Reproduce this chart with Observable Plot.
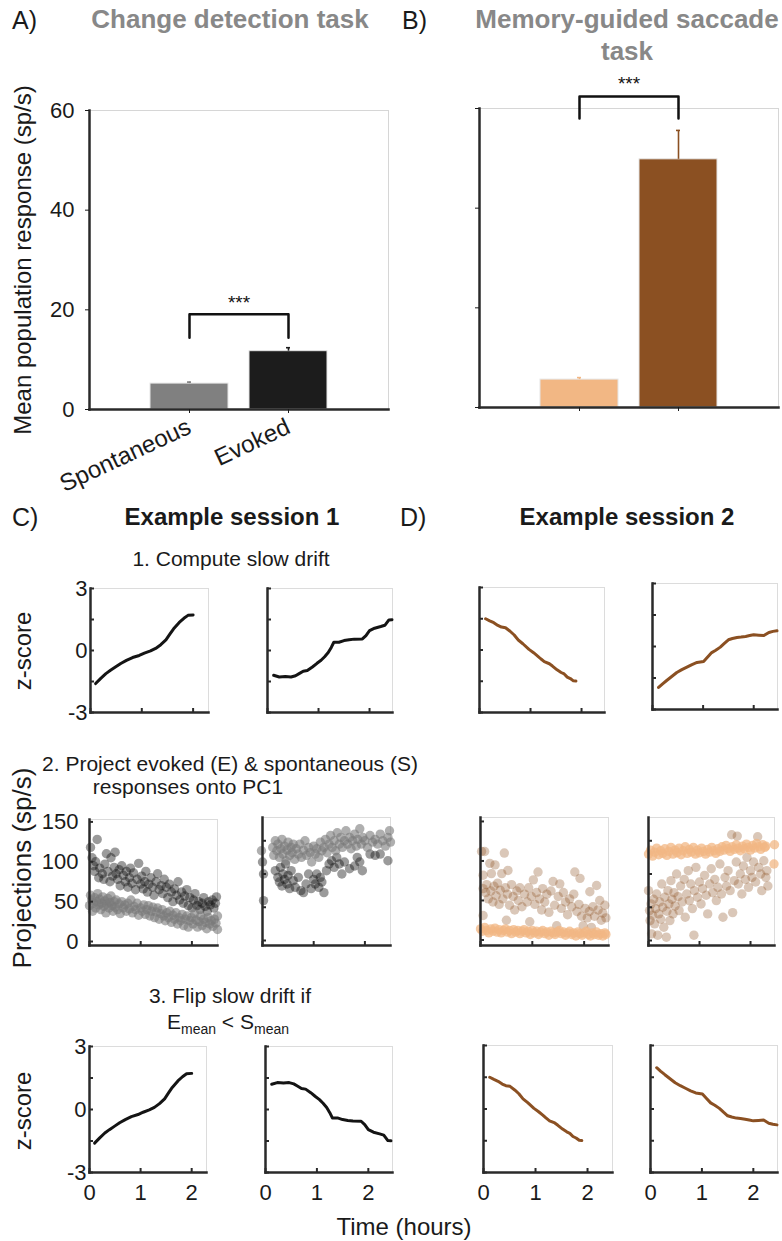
<!DOCTYPE html>
<html><head><meta charset="utf-8">
<script src="https://cdn.jsdelivr.net/npm/d3@7"></script>
<script src="https://cdn.jsdelivr.net/npm/@observablehq/plot@0.6"></script>
<style>
html,body{margin:0;padding:0;background:#fff;}
#root{position:relative;width:782px;height:1241px;overflow:hidden;font-family:'Liberation Sans',Arial,Helvetica,sans-serif;color:#1a1a1a;}
.t{position:absolute;white-space:nowrap;line-height:1;transform:translate(-50%,-50%);}
.l{position:absolute;white-space:nowrap;line-height:1;transform:translate(0,-50%);}
.v{position:absolute;white-space:nowrap;line-height:1;transform:translate(-50%,-50%) rotate(-90deg);}
.ttl{font-weight:bold;font-size:26px;color:#888;}
.hdr{font-weight:bold;font-size:24px;color:#1a1a1a;}
.pl{font-size:25px;}
.st{font-size:21px;}
.ax{font-size:24px;}
sub{font-size:14px;vertical-align:-5px;}
#root svg{position:absolute;overflow:visible;}
</style></head><body><div id="root">
<div class="l pl" style="left:12px;top:20px">A)</div>
<div class="t ttl" style="left:230px;top:19px">Change detection task</div>
<div class="l pl" style="left:402px;top:20px">B)</div>
<div class="t ttl" style="left:627px;top:19px">Memory-guided saccade</div>
<div class="t ttl" style="left:627px;top:51px">task</div>
<div class="v ax" style="left:23px;top:260px">Mean population response (sp/s)</div>
<div class="l pl" style="left:12px;top:517px">C)</div>
<div class="t hdr" style="left:232px;top:517px">Example session 1</div>
<div class="l pl" style="left:400px;top:517px">D)</div>
<div class="t hdr" style="left:627px;top:517px">Example session 2</div>
<div class="t st" style="left:231px;top:558px">1. Compute slow drift</div>
<div class="v ax" style="left:23px;top:651px">z-score</div>
<div class="t st" style="left:230px;top:763px">2. Project evoked (E) &amp; spontaneous (S)</div>
<div class="t st" style="left:188px;top:786px">responses onto PC1</div>
<div class="v ax" style="left:22px;top:868px;font-size:26px">Projections (sp/s)</div>
<div class="t st" style="left:230px;top:995px">3. Flip slow drift if</div>
<div class="t st" style="left:228px;top:1023px">E<sub>mean</sub> &lt; S<sub>mean</sub></div>
<div class="v ax" style="left:23px;top:1111px">z-score</div>
<div class="t ax" style="left:404px;top:1227px">Time (hours)</div>
</div>
<script>
const FONT = "'Liberation Sans', Arial, Helvetica, sans-serif";
const root = document.getElementById("root");

// ---------- bar charts (A, B) ----------
const barCategories = ["Spontaneous", "Evoked"];
const barTicks = [0, 20, 40, 60];
const changeMeans = [5.2, 11.7];
const changeErrors = [0.3, 0.7];
const changeColors = ["#808080", "#1c1c1c"];
const changeBracket = [14.4, 19.1];
const changeStarsAt = 21.3;
const memoryMeans = [5.6, 49.8];
const memoryErrors = [0.4, 5.8];
const memoryColors = ["#F2B784", "#8B5022"];
const memoryBracket = [58, 62.4];
const memoryStarsAt = 65;
const sigLabel = "***";

// ---------- slow drift (z-score vs time, hours) ----------
const drift1Time = [0.1,0.2,0.3,0.39,0.5,0.59,0.7,0.82,0.95,1.05,1.17,1.27,1.37,1.47,1.55,1.62,1.73,1.82,1.9,2.0];
const drift1Z    = [-1.6,-1.35,-1.12,-0.96,-0.78,-0.63,-0.48,-0.34,-0.24,-0.13,-0.02,0.1,0.28,0.51,0.8,1.05,1.36,1.56,1.7,1.72];
const drift2Time = [0.12,0.23,0.35,0.46,0.55,0.62,0.7,0.78,0.88,0.97,1.05,1.12,1.19,1.25,1.3,1.4,1.5,1.6,1.7,1.86,1.93,2.0,2.1,2.22,2.3,2.38,2.44];
const drift2Z    = [-1.2,-1.28,-1.26,-1.28,-1.22,-1.12,-1.0,-0.97,-0.8,-0.62,-0.47,-0.3,-0.1,0.15,0.4,0.4,0.48,0.52,0.55,0.56,0.72,0.96,1.08,1.16,1.22,1.48,1.49];
const drift3Time = [0.12,0.2,0.28,0.36,0.43,0.51,0.6,0.68,0.76,0.85,0.97,1.06,1.14,1.2,1.27,1.37,1.43,1.52,1.6,1.66,1.72,1.78,1.84,1.89];
const drift3Z    = [1.5,1.4,1.31,1.18,1.1,1.07,0.9,0.72,0.48,0.3,0.03,-0.13,-0.29,-0.42,-0.56,-0.66,-0.77,-0.95,-1.08,-1.15,-1.3,-1.37,-1.48,-1.49];
const drift4Time = [0.12,0.2,0.28,0.38,0.48,0.58,0.68,0.78,0.88,1.01,1.09,1.17,1.25,1.34,1.42,1.5,1.58,1.67,1.75,1.84,1.92,2.0,2.1,2.2,2.3,2.38,2.46];
const drift4Z    = [-1.95,-1.78,-1.62,-1.43,-1.24,-1.1,-0.98,-0.86,-0.76,-0.71,-0.5,-0.29,-0.18,-0.03,0.15,0.32,0.38,0.43,0.45,0.48,0.52,0.56,0.54,0.52,0.67,0.72,0.75];
// E_mean < S_mean in sessions 2 and 4, so their drift is flipped in step 3
const flipSession = [false, true, false, true];
const zTicks = [-3, -1.5, 0, 1.5, 3];
const zLabels = [-3, 0, 3];
const hourTicks = [0, 1, 2];
const projTicks = [0, 50, 100, 150];

// ---------- projections onto PC1 (time h, sp/s) ----------
const proj1Evoked = [[0.02,118],[0.05,105],[0.08,95],[0.1,88],[0.12,100],[0.15,128],[0.18,80],[0.2,92],[0.25,85],[0.28,78],[0.3,97],[0.33,110],[0.36,88],[0.4,75],[0.42,105],[0.45,82],[0.48,93],[0.5,112],[0.52,85],[0.55,78],[0.58,90],[0.6,70],[0.63,95],[0.66,83],[0.7,75],[0.72,88],[0.75,68],[0.78,80],[0.8,92],[0.83,73],[0.86,86],[0.9,65],[0.93,78],[0.96,98],[1.0,72],[1.02,82],[1.05,66],[1.08,75],[1.1,88],[1.13,62],[1.16,72],[1.2,80],[1.23,68],[1.26,58],[1.3,75],[1.33,85],[1.36,65],[1.4,70],[1.43,60],[1.46,78],[1.5,68],[1.53,55],[1.56,72],[1.6,62],[1.63,50],[1.66,66],[1.7,58],[1.73,75],[1.76,52],[1.8,62],[1.83,48],[1.86,57],[1.9,65],[1.93,45],[1.96,55],[2.0,42],[2.03,52],[2.06,60],[2.1,45],[2.13,50],[2.16,40],[2.2,48],[2.23,55],[2.26,44],[2.3,38],[2.33,50],[2.36,46],[2.4,52],[2.43,42],[2.46,48],[2.48,56]];
const proj1Spont = [[0.0,45],[0.02,58],[0.04,52],[0.06,38],[0.08,48],[0.1,55],[0.12,42],[0.14,50],[0.16,60],[0.18,46],[0.2,53],[0.22,40],[0.24,48],[0.26,56],[0.28,44],[0.3,51],[0.32,36],[0.34,47],[0.36,54],[0.38,42],[0.4,49],[0.42,57],[0.44,45],[0.46,38],[0.48,50],[0.5,43],[0.52,52],[0.55,40],[0.58,47],[0.6,35],[0.63,50],[0.66,42],[0.69,46],[0.72,38],[0.75,48],[0.78,41],[0.81,52],[0.84,36],[0.87,44],[0.9,40],[0.93,48],[0.96,33],[1.0,42],[1.03,38],[1.06,46],[1.09,34],[1.12,40],[1.15,45],[1.18,32],[1.21,38],[1.24,43],[1.27,30],[1.3,37],[1.33,42],[1.36,28],[1.39,35],[1.42,40],[1.45,32],[1.48,26],[1.51,36],[1.54,30],[1.57,38],[1.6,24],[1.63,33],[1.66,28],[1.69,36],[1.72,22],[1.75,30],[1.78,26],[1.81,34],[1.84,20],[1.87,28],[1.9,32],[1.93,18],[1.96,26],[1.99,30],[2.02,22],[2.05,35],[2.08,27],[2.11,18],[2.14,25],[2.17,32],[2.2,20],[2.23,28],[2.26,24],[2.29,16],[2.32,30],[2.35,22],[2.38,26],[2.41,19],[2.44,28],[2.47,23],[2.5,32],[2.5,15]];
const proj2Evoked = [[0.0,118],[0.02,100],[0.02,60],[0.25,105],[0.3,95],[0.33,88],[0.35,110],[0.38,82],[0.4,100],[0.43,92],[0.45,115],[0.48,85],[0.5,98],[0.53,78],[0.56,105],[0.6,90],[0.64,80],[0.7,95],[0.75,75],[0.8,72],[0.85,85],[0.9,100],[0.95,78],[1.0,92],[1.03,85],[1.06,100],[1.1,80],[1.13,95],[1.16,88],[1.2,72],[1.25,105],[1.3,115],[1.35,120],[1.4,110],[1.45,125],[1.5,115],[1.55,100],[1.6,118],[1.7,108],[1.8,112],[1.85,125],[1.9,118],[1.95,105],[2.1,130],[2.2,128],[2.3,130],[2.45,120]];
const proj2Spont = [[0.2,140],[0.22,128],[0.25,150],[0.28,135],[0.3,145],[0.33,125],[0.36,138],[0.38,152],[0.4,130],[0.43,142],[0.46,120],[0.48,136],[0.5,148],[0.53,128],[0.56,140],[0.58,132],[0.6,145],[0.63,122],[0.66,138],[0.7,130],[0.73,145],[0.76,125],[0.8,136],[0.83,150],[0.86,128],[0.9,140],[0.93,132],[0.96,118],[1.0,142],[1.03,130],[1.06,138],[1.1,125],[1.13,148],[1.16,135],[1.2,140],[1.23,152],[1.26,132],[1.3,145],[1.33,158],[1.36,140],[1.4,150],[1.43,135],[1.46,162],[1.5,145],[1.53,155],[1.56,140],[1.6,150],[1.63,165],[1.66,145],[1.7,155],[1.73,138],[1.76,150],[1.8,160],[1.83,142],[1.86,152],[1.9,168],[1.93,145],[1.96,155],[2.0,150],[2.05,140],[2.1,158],[2.15,148],[2.2,152],[2.25,145],[2.3,160],[2.35,150],[2.4,142],[2.45,155],[2.48,165],[2.5,148],[-0.02,135]];
const proj3Evoked = [[0.02,112],[0.05,82],[0.05,65],[0.05,31],[0.08,112],[0.1,60],[0.12,70],[0.15,52],[0.18,97],[0.2,62],[0.21,84],[0.24,48],[0.26,68],[0.28,95],[0.3,56],[0.33,72],[0.36,45],[0.38,63],[0.41,84],[0.43,52],[0.46,110],[0.48,66],[0.5,25],[0.52,58],[0.53,88],[0.56,44],[0.6,70],[0.63,55],[0.66,38],[0.7,62],[0.73,50],[0.76,66],[0.8,42],[0.85,58],[0.9,48],[0.93,66],[0.95,23],[0.98,55],[1.02,76],[1.05,45],[1.08,60],[1.11,86],[1.14,52],[1.18,38],[1.2,65],[1.24,48],[1.28,58],[1.32,35],[1.36,62],[1.4,74],[1.43,44],[1.47,18],[1.5,55],[1.53,71],[1.56,40],[1.6,60],[1.64,48],[1.68,32],[1.72,52],[1.76,42],[1.8,58],[1.82,86],[1.86,36],[1.9,45],[1.92,78],[1.95,30],[1.98,18],[2.02,40],[2.06,28],[2.1,36],[2.11,61],[2.14,16],[2.17,42],[2.2,30],[2.24,69],[2.27,38],[2.3,50],[2.33,25],[2.36,34],[2.4,44],[2.42,28]];
const proj3Spont = [[0.0,14],[0.04,11],[0.08,16],[0.12,12],[0.16,9],[0.2,14],[0.24,11],[0.28,15],[0.32,10],[0.36,13],[0.4,9],[0.44,12],[0.48,14],[0.52,10],[0.56,12],[0.6,8],[0.64,13],[0.68,10],[0.72,12],[0.76,8],[0.8,11],[0.84,13],[0.88,9],[0.92,11],[0.96,7],[1.0,12],[1.04,9],[1.08,11],[1.12,7],[1.16,10],[1.2,12],[1.24,8],[1.28,10],[1.32,6],[1.36,11],[1.4,9],[1.44,7],[1.48,10],[1.52,12],[1.56,8],[1.6,10],[1.64,6],[1.68,9],[1.72,11],[1.76,7],[1.8,9],[1.84,5],[1.88,10],[1.92,8],[1.96,6],[2.0,9],[2.04,11],[2.08,7],[2.12,5],[2.16,9],[2.2,7],[2.24,10],[2.28,6],[2.32,8],[2.36,5],[2.4,9],[2.42,7]];
const proj4Evoked = [[0.0,75],[0.02,45],[0.03,30],[0.05,55],[0.06,10],[0.08,38],[0.1,62],[0.12,25],[0.14,48],[0.16,70],[0.18,8],[0.2,40],[0.22,58],[0.24,32],[0.26,85],[0.28,50],[0.3,20],[0.32,65],[0.35,5],[0.36,44],[0.38,75],[0.4,55],[0.42,30],[0.44,90],[0.46,62],[0.48,40],[0.5,72],[0.52,52],[0.55,100],[0.58,66],[0.6,45],[0.63,82],[0.66,58],[0.7,92],[0.72,35],[0.75,70],[0.78,105],[0.8,60],[0.83,85],[0.86,48],[0.89,8],[0.9,75],[0.93,110],[0.96,65],[1.0,88],[1.03,55],[1.06,78],[1.1,98],[1.13,68],[1.16,40],[1.2,85],[1.23,108],[1.26,72],[1.3,92],[1.33,60],[1.36,80],[1.4,115],[1.43,70],[1.46,35],[1.5,95],[1.53,82],[1.56,105],[1.6,75],[1.63,159],[1.65,42],[1.68,90],[1.72,118],[1.74,157],[1.76,85],[1.8,100],[1.83,70],[1.86,112],[1.9,92],[1.93,125],[1.96,80],[2.0,105],[2.03,95],[2.06,118],[2.1,88],[2.14,156],[2.16,110],[2.2,100],[2.22,75],[2.26,120],[2.3,95],[2.32,105],[2.34,82]];
const proj4Spont = [[0.0,130],[0.04,136],[0.08,127],[0.12,133],[0.16,139],[0.2,129],[0.24,135],[0.28,131],[0.32,138],[0.36,128],[0.4,134],[0.44,140],[0.48,130],[0.52,136],[0.56,132],[0.6,139],[0.64,129],[0.68,135],[0.72,141],[0.76,131],[0.8,137],[0.84,133],[0.88,140],[0.92,130],[0.96,136],[1.0,132],[1.04,139],[1.08,134],[1.12,130],[1.16,137],[1.2,133],[1.24,140],[1.28,135],[1.32,131],[1.36,138],[1.4,134],[1.44,141],[1.48,136],[1.52,143],[1.56,138],[1.6,134],[1.64,141],[1.68,137],[1.72,144],[1.76,139],[1.8,135],[1.84,142],[1.88,138],[1.92,145],[1.96,140],[2.0,136],[2.04,143],[2.08,139],[2.12,146],[2.16,141],[2.2,137],[2.24,144],[2.28,140],[2.3,142],[2.47,144],[2.46,115]];

const darkLine = "#141414", brownLine = "#8B5022";
const evokedDark = "#111111", spontGray = "#7a7a7a";
const evokedBrown = "#8B5022", spontOrange = "#F2B784";

// ---------- helpers ----------
function place(svg, left, top) {
  svg.style.left = left + "px";
  svg.style.top = top + "px";
  root.appendChild(svg);
}
const baseStyle = {fontFamily: FONT, fontSize: "22px", color: "#1a1a1a", background: "transparent", overflow: "visible"};

function barPanel({means, errors, colors, bracket, starsAt, frame: [fx, fy, fw, fh], labels}) {
  const mL = 89, mR = 12, mT = 50, mB = labels ? 100 : 20;
  const rows = barCategories.map((c, i) => ({cat: c, mean: means[i], err: errors[i], color: colors[i]}));
  const bracketRows = [
    {cat: barCategories[0], v: bracket[0]}, {cat: barCategories[0], v: bracket[1]},
    {cat: barCategories[1], v: bracket[1]}, {cat: barCategories[1], v: bracket[0]}
  ];
  const svg = Plot.plot({
    width: fw + mL + mR, height: fh + mT + mB,
    marginLeft: mL, marginRight: mR, marginTop: mT, marginBottom: mB,
    style: baseStyle,
    x: {type: "band", domain: barCategories, paddingInner: 0.21, paddingOuter: 0.605, axis: null},
    y: {domain: [barTicks[0], barTicks[barTicks.length - 1]], axis: null},
    color: {type: "identity"},
    marks: [
      Plot.frame({stroke: "#d6d6d6", strokeWidth: 1}),
      Plot.barY(rows, {x: "cat", y: "mean", fill: "color", stroke: "#e6e6e6", strokeWidth: 1}),
      Plot.ruleX(rows, {x: "cat", y1: "mean", y2: d => d.mean + d.err, stroke: "color", strokeWidth: 1.6}),
      Plot.tickY(rows, {x: "cat", y: d => d.mean + d.err, stroke: "color", strokeWidth: 1.6, insetLeft: 37, insetRight: 37}),
      Plot.line(bracketRows, {x: "cat", y: "v", stroke: "#111", strokeWidth: 2.5}),
      Plot.text([sigLabel], {y: [starsAt], text: d => d, fontSize: 19, fill: "#111"}),
      Plot.frame({anchor: "left", stroke: "#2a2a2a", strokeWidth: 2.5}),
      Plot.frame({anchor: "bottom", stroke: "#2a2a2a", strokeWidth: 2.5}),
      Plot.axisY(barTicks, {tickSize: 4, tickPadding: 11, fontSize: 22, label: null,
        tickFormat: labels ? (d => String(d)) : (() => "")}),
      Plot.axisX({tickSize: 4, tickPadding: 12, tickRotate: labels ? -25 : 0, fontSize: 24, label: null,
        tickFormat: labels ? (d => d) : (() => "")})
    ]
  });
  place(svg, fx - mL, fy - mT);
}

function axisPanel({frame: [fx, fy, fw, fh], xDomain, yDomain, yTicks, yLabels, yGap, xLabels, marks}) {
  const mL = 70, mR = 10, mT = 10, mB = 42;
  const extra = [];
  if (yLabels) extra.push(Plot.axisY(yLabels, {tickSize: 0, tickPadding: yGap, fontSize: 22, label: null, tickFormat: d => String(d)}));
  if (xLabels) extra.push(Plot.axisX(hourTicks, {tickSize: 0, tickPadding: 12, fontSize: 22, label: null, tickFormat: d => String(d)}));
  const svg = Plot.plot({
    width: fw + mL + mR, height: fh + mT + mB,
    marginLeft: mL, marginRight: mR, marginTop: mT, marginBottom: mB,
    style: baseStyle,
    x: {domain: xDomain, axis: null},
    y: {domain: yDomain, axis: null},
    marks: [
      Plot.frame({stroke: "#dcdcdc", strokeWidth: 1}),
      ...marks,
      Plot.tickY(yTicks, {y: d => d, insetRight: fw - 4, stroke: "#2a2a2a", strokeWidth: 2}),
      Plot.tickX(hourTicks, {x: d => d, insetTop: fh - 4, stroke: "#2a2a2a", strokeWidth: 2}),
      Plot.frame({anchor: "left", stroke: "#2a2a2a", strokeWidth: 2.5}),
      Plot.frame({anchor: "bottom", stroke: "#2a2a2a", strokeWidth: 2.5}),
      ...extra
    ]
  });
  place(svg, fx - mL, fy - mT);
}

function driftLine(times, zs, flip, color) {
  const rows = times.map((t, i) => ({t, z: flip ? -zs[i] : zs[i]}));
  return Plot.line(rows, {x: "t", y: "z", stroke: color, strokeWidth: 3, strokeLinejoin: "round", strokeLinecap: "round"});
}
function dots(points, color, opacity) {
  return Plot.dot(points, {x: d => d[0], y: d => d[1], r: 4.7, fill: color, fillOpacity: opacity, stroke: "none"});
}

// ---------- A and B ----------
barPanel({means: changeMeans, errors: changeErrors, colors: changeColors, bracket: changeBracket,
  starsAt: changeStarsAt, frame: [89, 110, 299, 299], labels: true});
barPanel({means: memoryMeans, errors: memoryErrors, colors: memoryColors, bracket: memoryBracket,
  starsAt: memoryStarsAt, frame: [479, 108, 299, 299], labels: false});

// ---------- row 1: slow drift ----------
const drifts = [[drift1Time, drift1Z, darkLine], [drift2Time, drift2Z, darkLine], [drift3Time, drift3Z, brownLine], [drift4Time, drift4Z, brownLine]];
const row1Frames = [[90, 588, 118, 124], [267, 588, 125, 124], [479, 587, 125, 125], [652, 583, 125, 126]];
const row1XMax = [2.3, 2.45, 2.45, 2.47];
drifts.forEach(([t, z, c], i) => axisPanel({
  frame: row1Frames[i], xDomain: [0, row1XMax[i]], yDomain: [-3, 3], yTicks: zTicks,
  yLabels: i === 0 ? zLabels : null, yGap: 3, xLabels: false,
  marks: [driftLine(t, z, false, c)]
}));

// ---------- row 2: projections ----------
const projSets = [
  [proj1Evoked, proj1Spont, evokedDark, spontGray, [-5, 153]],
  [proj2Evoked, proj2Spont, evokedDark, spontGray, [-7.5, 185]],
  [proj3Evoked, proj3Spont, evokedBrown, spontOrange, [-7, 155]],
  [proj4Evoked, proj4Spont, evokedBrown, spontOrange, [-7.5, 185]]
];
const row2Frames = [[89, 819, 128, 126], [262, 817, 128, 128], [480, 817, 128, 128], [648, 817, 126, 128]];
const row2XMax = [2.5, 2.5, 2.47, 2.47];
const evokedAlpha = [0.42, 0.42, 0.32, 0.32];
const spontAlpha = [0.6, 0.6, 0.75, 0.75];
projSets.forEach(([ev, sp, ce, cs, yd], i) => axisPanel({
  frame: row2Frames[i], xDomain: [0, row2XMax[i]], yDomain: yd, yTicks: projTicks,
  yLabels: i === 0 ? projTicks : null, yGap: 11, xLabels: false,
  marks: [dots(ev, ce, evokedAlpha[i]), dots(sp, cs, spontAlpha[i])]
}));

// ---------- row 3: flipped drift ----------
const row3Frames = [[89, 1046, 117, 126], [265, 1046, 127, 126], [483, 1045, 129, 127], [650, 1045, 127, 127]];
const row3XMax = [2.29, 2.47, 2.48, 2.47];
drifts.forEach(([t, z, c], i) => axisPanel({
  frame: row3Frames[i], xDomain: [0, row3XMax[i]], yDomain: [-3, 3], yTicks: zTicks,
  yLabels: i === 0 ? zLabels : null, yGap: 3, xLabels: true,
  marks: [driftLine(t, z, flipSession[i], c)]
}));
</script></body></html>
